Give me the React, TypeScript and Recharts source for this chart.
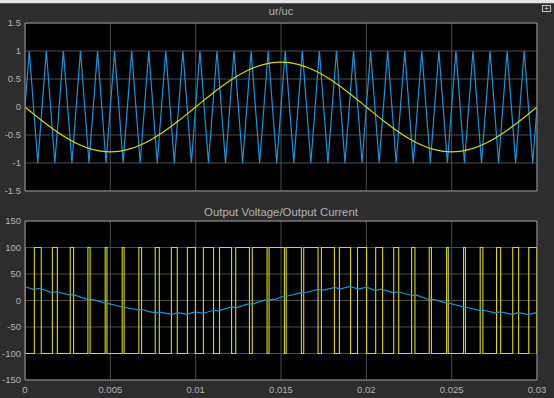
import React from 'react';
import { LineChart, Line, XAxis, YAxis, CartesianGrid, ReferenceLine } from 'recharts';

// ---- axis ticks ----
const xTicks = [0, 0.005, 0.01, 0.015, 0.02, 0.025, 0.03];
const xTickLabels = ['0', '0.005', '0.01', '0.015', '0.02', '0.025', '0.03'];
const topYTicks = [-1.5, -1, -0.5, 0, 0.5, 1, 1.5];
const topYTickLabels = ['-1.5', '-1', '-0.5', '0', '0.5', '1', '1.5'];
const botYTicks = [-150, -100, -50, 0, 50, 100, 150];
const botYTickLabels = ['-150', '-100', '-50', '0', '50', '100', '150'];

// ---- top plot: carrier (uc) triangle vertices ----
const carrierT = [
  0, 0.00025, 0.00075, 0.00125, 0.00175, 0.00225, 0.00275, 0.00325, 0.00375, 0.00425, 0.00475,
  0.00525, 0.00575, 0.00625, 0.00675, 0.00725, 0.00775, 0.00825, 0.00875, 0.00925, 0.00975,
  0.01025, 0.01075, 0.01125, 0.01175, 0.01225, 0.01275, 0.01325, 0.01375, 0.01425, 0.01475,
  0.01525, 0.01575, 0.01625, 0.01675, 0.01725, 0.01775, 0.01825, 0.01875, 0.01925, 0.01975,
  0.02025, 0.02075, 0.02125, 0.02175, 0.02225, 0.02275, 0.02325, 0.02375, 0.02425, 0.02475,
  0.02525, 0.02575, 0.02625, 0.02675, 0.02725, 0.02775, 0.02825, 0.02875, 0.02925, 0.02975, 0.03,
];
const carrierV = [
  0, 1, -1, 1, -1, 1, -1, 1, -1, 1, -1,
  1, -1, 1, -1, 1, -1, 1, -1, 1, -1,
  1, -1, 1, -1, 1, -1, 1, -1, 1, -1,
  1, -1, 1, -1, 1, -1, 1, -1, 1, -1,
  1, -1, 1, -1, 1, -1, 1, -1, 1, -1,
  1, -1, 1, -1, 1, -1, 1, -1, 1, -1, 0,
];

// ---- top plot: reference (ur) samples ----
const refT = [
  0, 0.001, 0.002, 0.003, 0.004, 0.005, 0.006, 0.007, 0.008, 0.009, 0.01,
  0.011, 0.012, 0.013, 0.014, 0.015, 0.016, 0.017, 0.018, 0.019, 0.02,
  0.021, 0.022, 0.023, 0.024, 0.025, 0.026, 0.027, 0.028, 0.029, 0.03,
];
const refV = [
  0, -0.247, -0.47, -0.647, -0.761, -0.8, -0.761, -0.647, -0.47, -0.247, 0,
  0.247, 0.47, 0.647, 0.761, 0.8, 0.761, 0.647, 0.47, 0.247, 0,
  -0.247, -0.47, -0.647, -0.761, -0.8, -0.761, -0.647, -0.47, -0.247, 0,
];

// ---- bottom plot: output voltage pulses (+100 from rise to fall, else -100) ----
const vHigh = 100;
const vLow = -100;
const riseT = [
  0.000547, 0.001604, 0.002652, 0.003685, 0.004699, 0.005694, 0.006671, 0.00763, 0.008577, 0.009516,
  0.010453, 0.011396, 0.012348, 0.013315, 0.014301, 0.015306, 0.01633, 0.01737, 0.018424, 0.019484,
  0.020547, 0.021604, 0.022652, 0.023685, 0.024699, 0.025694, 0.026671, 0.02763, 0.028577, 0.029516,
];
const fallT = [
  0.000953, 0.001896, 0.002848, 0.003815, 0.004801, 0.005806, 0.006829, 0.00787, 0.008923, 0.009984,
  0.011047, 0.012104, 0.013152, 0.014185, 0.015199, 0.016195, 0.01717, 0.01813, 0.019076, 0.020016,
  0.020953, 0.021896, 0.022848, 0.023815, 0.024801, 0.025806, 0.026829, 0.02787, 0.028923, 0.029984,
];

// ---- bottom plot: output current ----
const curT = [
  0, 0.00049, 0.00088, 0.00156, 0.00186, 0.00264, 0.00283, 0.00362, 0.00391, 0.00469, 0.00488,
  0.00576, 0.00664, 0.00684, 0.00732, 0.00772, 0.00791, 0.0086, 0.00898, 0.00947, 0.00996,
  0.01045, 0.01103, 0.01133, 0.01211, 0.0124, 0.01308, 0.01338, 0.01406, 0.01465, 0.01513,
  0.01543, 0.01621, 0.01641, 0.01718, 0.01748, 0.01816, 0.01846, 0.01904, 0.01953, 0.02002,
  0.02051, 0.0209, 0.02158, 0.02187, 0.02266, 0.02295, 0.02363, 0.02393, 0.02471, 0.0249,
  0.02568, 0.02588, 0.02666, 0.02686, 0.02754, 0.02783, 0.02852, 0.02891, 0.02949, 0.02988, 0.03,
];
const curV = [
  26, 21, 23, 15, 16.5, 10, 11, 2.5, 2, -5, -6,
  -12.7, -17.7, -17, -21.5, -23.4, -22, -26, -22.8, -26, -21.5,
  -24, -18.4, -19.6, -12, -13.3, -6.3, -6.3, 0.6, 2, 8,
  9, 15, 14.6, 21, 19.6, 24.7, 21.5, 26.6, 21.5, 25.3,
  19, 21.5, 14.6, 16.5, 9.5, 10, 2, 2, -5, -5.7,
  -12, -12.7, -19, -18.4, -23.4, -21.5, -26, -22.8, -26.6, -23.4, -24,
];

const carrierData = carrierT.map((t, i) => ({ t, v: carrierV[i] }));
const refData = refT.map((t, i) => ({ t, v: refV[i] }));
const voltData: { t: number; v: number }[] = [{ t: 0, v: vHigh }, { t: 0, v: vLow }];
riseT.forEach((r, i) => {
  voltData.push({ t: r, v: vHigh });
  voltData.push({ t: fallT[i], v: vLow });
});
voltData.push({ t: 0.03, v: vLow });
const curData = curT.map((t, i) => ({ t, v: curV[i] }));

const BG = '#2d2d2d';
const GRID = '#4c4c4c';
const FRAME = '#8c8c8c';
const TEXT = '#b4b4b4';
const BLUE = '#1a93e0';
const YELLOW = '#d8d80c';
const FONT = '"Liberation Sans", Arial, sans-serif';

const fmt = (ticks: number[], labels: string[]) => (v: number) => {
  const i = ticks.findIndex((x) => Math.abs(x - v) < 1e-9);
  return i >= 0 ? labels[i] : String(v);
};

const tickStyle = { fill: TEXT, fontSize: 9.5, fontFamily: FONT };

export default function App() {
  return (
    <div
      style={{
        position: 'absolute',
        left: 0,
        top: 0,
        width: 554,
        height: 398,
        background: BG,
        overflow: 'hidden',
        fontFamily: FONT,
      }}
    >
      <div style={{ position: 'absolute', left: 0, top: 0, width: 554, height: 3, background: '#e4e4e4' }} />
      <div style={{ position: 'absolute', left: 0, top: 3, width: 554, height: 1, background: '#555' }} />
      <div
        style={{
          position: 'absolute',
          left: 542,
          top: 5,
          width: 9,
          height: 7,
          border: '1px solid #c8c8c8',
          boxSizing: 'border-box',
          color: '#e0e0e0',
          fontSize: 8,
          lineHeight: '6px',
          textAlign: 'center',
        }}
      >
        +
      </div>
      <div
        style={{
          position: 'absolute',
          left: 25,
          top: 5,
          width: 512,
          height: 13,
          lineHeight: '13px',
          textAlign: 'center',
          color: TEXT,
          fontSize: 11,
        }}
      >
        ur/uc
      </div>
      <div
        style={{
          position: 'absolute',
          left: 25,
          top: 205,
          width: 512,
          height: 14,
          lineHeight: '14px',
          textAlign: 'center',
          color: TEXT,
          fontSize: 11.4,
        }}
      >
        Output Voltage/Output Current
      </div>
      <div style={{ position: 'absolute', left: 0, top: 192 }}>
        <LineChart width={554} height={206} margin={{ top: 29, right: 17, bottom: 0, left: 0 }}>
          <CartesianGrid stroke={GRID} fill="#000" />
          <XAxis
            type="number"
            dataKey="t"
            domain={[0, 0.03]}
            ticks={xTicks}
            height={18}
            tickSize={0}
            tickMargin={6}
            axisLine={false}
            tickLine={false}
            tick={tickStyle}
            tickFormatter={fmt(xTicks, xTickLabels)}
            interval={0}
            allowDataOverflow
          />
          <YAxis
            type="number"
            domain={[-150, 150]}
            ticks={botYTicks}
            width={25}
            tickSize={0}
            tickMargin={4}
            axisLine={false}
            tickLine={false}
            tick={tickStyle}
            tickFormatter={fmt(botYTicks, botYTickLabels)}
            interval={0}
            allowDataOverflow
          />
          <Line data={voltData} dataKey="v" type="stepAfter" stroke={YELLOW} strokeWidth={1.1} dot={false} isAnimationActive={false} />
          <Line data={curData} dataKey="v" type="linear" stroke={BLUE} strokeWidth={1.2} dot={false} isAnimationActive={false} />
          <ReferenceLine y={150} stroke={FRAME} />
          <ReferenceLine y={-150} stroke={FRAME} />
          <ReferenceLine x={0} stroke={FRAME} />
          <ReferenceLine x={0.03} stroke={FRAME} />
        </LineChart>
      </div>
      <div style={{ position: 'absolute', left: 0, top: 0 }}>
        <LineChart width={554} height={200} margin={{ top: 23, right: 17, bottom: 9, left: 0 }}>
          <CartesianGrid stroke={GRID} fill="#000" />
          <XAxis
            type="number"
            dataKey="t"
            domain={[0, 0.03]}
            ticks={xTicks}
            hide
            allowDataOverflow
          />
          <YAxis
            type="number"
            domain={[-1.5, 1.5]}
            ticks={topYTicks}
            width={25}
            tickSize={0}
            tickMargin={4}
            axisLine={false}
            tickLine={false}
            tick={tickStyle}
            tickFormatter={fmt(topYTicks, topYTickLabels)}
            interval={0}
            allowDataOverflow
          />
          <Line data={carrierData} dataKey="v" type="linear" stroke={BLUE} strokeWidth={1.2} dot={false} isAnimationActive={false} />
          <Line data={refData} dataKey="v" type="monotone" stroke={YELLOW} strokeWidth={1.2} dot={false} isAnimationActive={false} />
          <ReferenceLine y={1.5} stroke={FRAME} />
          <ReferenceLine y={-1.5} stroke={FRAME} />
          <ReferenceLine x={0} stroke={FRAME} />
          <ReferenceLine x={0.03} stroke={FRAME} />
        </LineChart>
      </div>
    </div>
  );
}
